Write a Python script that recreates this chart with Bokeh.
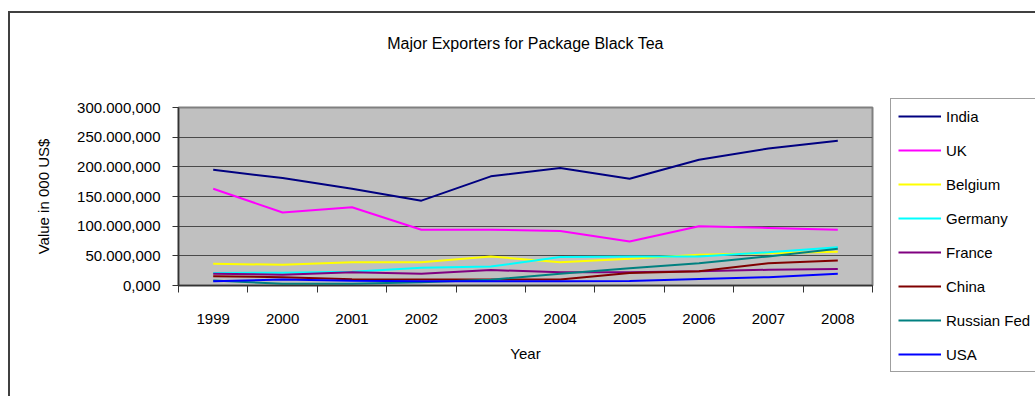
from bokeh.plotting import figure
from bokeh.models import FixedTicker, Range1d, Legend, LegendItem, InlineStyleSheet, Title
from bokeh.embed import file_html
from bokeh.resources import INLINE

# ---- data (values in 000 US$) ----
years = ["1999", "2000", "2001", "2002", "2003", "2004", "2005", "2006", "2007", "2008"]
india = [195000, 181000, 163000, 143000, 184000, 198000, 180000, 212000, 231000, 244000]
uk = [163000, 123000, 132000, 94000, 94000, 92000, 74000, 100000, 97000, 94000]
belgium = [36500, 35000, 39000, 39000, 49000, 39000, 45000, 52000, 54500, 57000]
germany = [21000, 21500, 23000, 30000, 32000, 48000, 49000, 49000, 56000, 64500]
france = [20000, 18000, 22500, 20000, 26000, 22500, 22500, 24000, 26500, 28000]
china = [15700, 14000, 10600, 10000, 10000, 10000, 21000, 24000, 37500, 42000]
russia = [8400, 2800, 2800, 5600, 9600, 20000, 29000, 37500, 49000, 62000]
usa = [7300, 10000, 8000, 7000, 7000, 7000, 7500, 11000, 14000, 20000]

series_names = ["India", "UK", "Belgium", "Germany", "France", "China", "Russian Fed", "USA"]
series_values = [india, uk, belgium, germany, france, china, russia, usa]
series_colors = ["#000080", "#FF00FF", "#FFFF00", "#00FFFF", "#800080", "#800000", "#008080", "#0000FF"]

y_ticks = [0, 50000, 100000, 150000, 200000, 250000, 300000]
y_tick_labels = ["0,000", "50.000,000", "100.000,000", "150.000,000",
                 "200.000,000", "250.000,000", "300.000,000"]

title_text = "Major Exporters for Package Black Tea"
x_title = "Year"
y_title = "Value in 000 US$"

FONT = "Liberation Sans"

xs = [i + 0.5 for i in range(len(years))]

p = figure(frame_width=694, frame_height=178,
           min_border_left=178, min_border_right=163,
           min_border_top=107, min_border_bottom=111,
           x_range=Range1d(0, len(years)), y_range=Range1d(0, y_ticks[-1]),
           output_backend="svg", toolbar_location=None)

p.background_fill_color = "#C0C0C0"
p.border_fill_color = "white"
p.outline_line_color = "#808080"
p.outline_line_width = 2

# outer chart border: only its left and top edges fall inside the picture
p.stylesheets = [InlineStyleSheet(css="""
:host { overflow: hidden; }
:host::before {
  content: ""; position: absolute; left: 8px; top: 11px; width: 1100px; height: 2px;
  background: #404040; pointer-events: none; z-index: 10;
}
:host::after {
  content: ""; position: absolute; left: 8px; top: 11px; width: 2px; height: 500px;
  background: #404040; pointer-events: none; z-index: 10;
}
""")]

renderers = []
for name, vals, col in zip(series_names, series_values, series_colors):
    r = p.line(xs, vals, line_color=col, line_width=2)
    renderers.append(r)

# grid
p.xgrid.visible = False
p.ygrid.grid_line_color = "#4a4a4a"
p.ygrid.grid_line_width = 1

# y axis
ya = p.yaxis[0]
ya.ticker = FixedTicker(ticks=y_ticks)
ya.major_label_overrides = {t: l for t, l in zip(y_ticks, y_tick_labels)}
ya.major_tick_out = 6
ya.major_tick_in = 0
ya.minor_tick_out = 0
ya.minor_tick_in = 0
ya.major_label_standoff = 12
ya.major_label_text_font = FONT
ya.major_label_text_font_size = "15px"
ya.major_label_text_color = "black"
ya.axis_line_color = "#333333"
ya.axis_line_width = 1.5
ya.major_tick_line_color = "#333333"
ya.axis_label = y_title
ya.axis_label_text_font = FONT
ya.axis_label_text_font_size = "15px"
ya.axis_label_text_font_style = "normal"
ya.axis_label_text_color = "black"
ya.axis_label_standoff = 22

# x axis
xa = p.xaxis[0]
xa.ticker = FixedTicker(ticks=xs, minor_ticks=list(range(len(years) + 1)))
xa.major_label_overrides = {x: y for x, y in zip(xs, years)}
xa.major_tick_out = 0
xa.major_tick_in = 0
xa.minor_tick_out = 7
xa.minor_tick_in = 0
xa.minor_tick_line_color = "#333333"
xa.major_label_standoff = 21
xa.major_label_text_font = FONT
xa.major_label_text_font_size = "15px"
xa.major_label_text_color = "black"
xa.axis_line_color = "#333333"
xa.axis_line_width = 1.5
xa.axis_label = x_title
xa.axis_label_text_font = FONT
xa.axis_label_text_font_size = "15px"
xa.axis_label_text_font_style = "normal"
xa.axis_label_text_color = "black"
xa.axis_label_standoff = 18

# spacer between the frame and the title (keeps the title near the top)
p.add_layout(Title(text=" ", text_font_size="1px", standoff=48), "above")

# title
p.title.text = title_text
p.title.align = "center"
p.title.text_font = FONT
p.title.text_font_size = "16px"
p.title.text_font_style = "normal"
p.title.text_color = "black"
p.title.standoff = 10

legend = Legend(items=[LegendItem(label=n, renderers=[r]) for n, r in zip(series_names, renderers)],
                location=(18, -87), orientation="vertical",
                padding=7, margin=0, spacing=14,
                glyph_width=43, glyph_height=20, label_height=20, label_width=95,
                label_standoff=5,
                label_text_font=FONT, label_text_font_size="15px", label_text_color="black",
                border_line_color="#404040", border_line_width=1,
                background_fill_color="white", background_fill_alpha=1)
p.add_layout(legend, "right")

open("out.html", "w").write(file_html(p, INLINE))
